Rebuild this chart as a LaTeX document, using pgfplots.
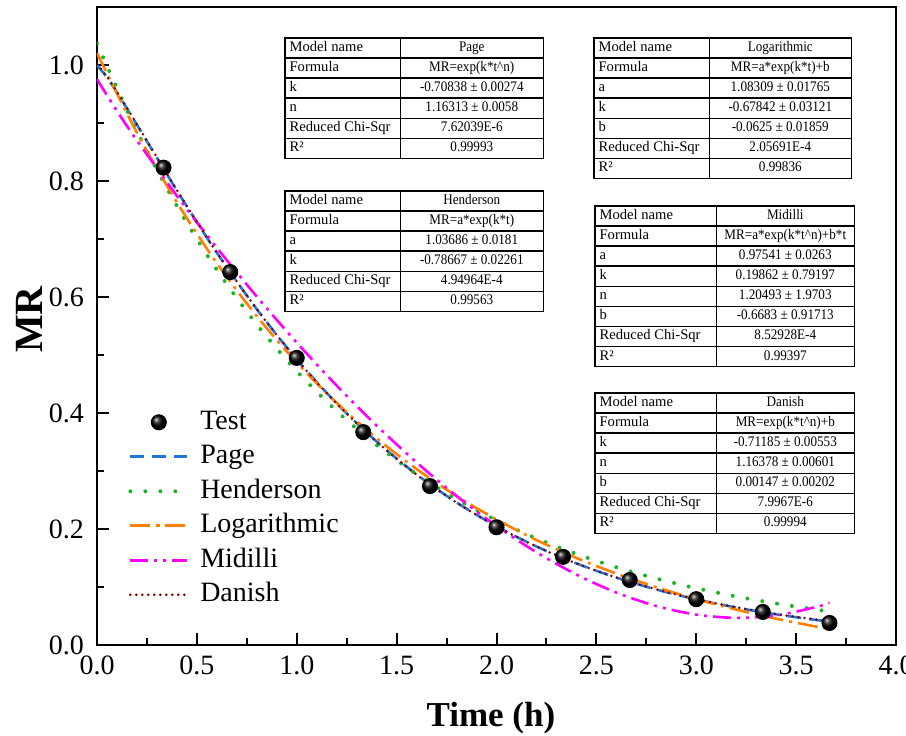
\documentclass[border=0pt]{standalone}
\usepackage{fontspec}
\setmainfont{Liberation Serif}
\newfontfamily\narrowfont[FakeStretch=0.9]{Liberation Serif}
\usepackage{pgfplots}
\pgfplotsset{compat=1.18}
\usepackage{array}
\definecolor{cPage}{RGB}{30,120,220}
\definecolor{cHend}{RGB}{30,180,40}
\definecolor{cLog}{RGB}{255,128,0}
\definecolor{cMid}{RGB}{255,0,255}
\definecolor{cDan}{RGB}{128,0,0}
\newcommand{\fittab}[3]{{\fontsize{7.3}{8.8}\selectfont\setlength{\tabcolsep}{2pt}\setlength{\arrayrulewidth}{0.6pt}\renewcommand{\arraystretch}{1.07}%
\begin{tabular}{|>{\raggedright\arraybackslash}p{#1}|>{\narrowfont\centering\arraybackslash}p{#2}|}\hline #3\end{tabular}}}
\begin{document}
\begin{tikzpicture}
\useasboundingbox (-48.5pt,-45pt) rectangle (404.5pt,322.5pt);
\begin{axis}[
  scale only axis, width=399.5pt, height=319pt,
  xmin=0, xmax=4, ymin=0, ymax=1.1,
  xtick={0,0.5,1,1.5,2,2.5,3,3.5,4},
  ytick={0,0.2,0.4,0.6,0.8,1.0},
  minor x tick num=1, minor y tick num=1,
  tick align=inside, xtick pos=bottom, ytick pos=left,
  major tick length=6pt, minor tick length=3.5pt,
  tick style={line width=1pt, black},
  axis line style={line width=1.25pt},
  /pgf/number format/assume math mode=true,
  /pgf/number format/.cd, fixed, fixed zerofill, precision=1, /pgfplots/.cd,
  ticklabel style={font=\fontsize{14}{16}\selectfont},
  x tick label style={yshift=-2pt},
  y tick label style={xshift=-3pt},
  xlabel={\bfseries Time (h)},
  ylabel={\bfseries MR},
  xlabel style={font=\fontsize{17.5}{20}\selectfont, at={(axis description cs:0.493,0)}, anchor=center, yshift=-36.5pt},
  ylabel style={font=\fontsize{20}{22}\selectfont, at={(axis description cs:0,0.51)}, anchor=center, yshift=34pt},
  legend image code/.code={\draw[mark repeat=2,mark phase=2,#1] plot coordinates {(0cm,0cm) (0.5cm,0cm) (1cm,0cm)};},
  legend style={draw=none, fill=none, at={(axis cs:0.155,0.414)}, anchor=north west,
    font=\fontsize{14}{16}\selectfont, row sep=0.25pt, inner sep=0pt,
    nodes={text height=10pt, text depth=3pt, inner ysep=2pt, inner xsep=5.5pt}},
  legend cell align=left,
]
\addplot[only marks, mark=ball, mark size=3.8pt, mark options={ball color=black}] coordinates {
(0.333,0.823) (0.667,0.643) (1.0,0.495) (1.333,0.367) (1.667,0.274) (2.0,0.203)
(2.333,0.152) (2.667,0.112) (3.0,0.079) (3.333,0.057) (3.667,0.038)};
\addplot[cPage, line width=1.3pt, dash pattern=on 7pt off 4pt, smooth] coordinates {
(0,1) (0.05,0.9785) (0.1,0.9525) (0.2,0.8968) (0.4,0.7835) (0.6,0.6764) (0.8,0.5790) (1.0,0.4924)
(1.2,0.4166) (1.4,0.3508) (1.6,0.2941) (1.8,0.2458) (2.0,0.2047) (2.2,0.1699) (2.4,0.1407)
(2.6,0.1162) (2.8,0.0957) (3.0,0.0787) (3.2,0.0646) (3.4,0.0528) (3.6,0.0432) (3.667,0.0403)};
\addplot[cHend, line width=2pt, line cap=round, dash pattern=on 0pt off 7.5pt, smooth] coordinates {
(0,1.0369) (0.2,0.8859) (0.4,0.7569) (0.6,0.6468) (0.8,0.5526) (1.0,0.4722) (1.2,0.4034)
(1.4,0.3447) (1.6,0.2945) (1.8,0.2516) (2.0,0.2150) (2.2,0.1837) (2.4,0.1570) (2.6,0.1341)
(2.8,0.1146) (3.0,0.0979) (3.2,0.0837) (3.4,0.0715) (3.6,0.0611) (3.667,0.0579)};
\addplot[cLog, line width=1.3pt, dash pattern=on 10pt off 3pt on 1.5pt off 3pt, smooth] coordinates {
(0,1.0206) (0.2,0.8832) (0.4,0.7632) (0.6,0.6584) (0.8,0.5670) (1.0,0.4871) (1.2,0.4174)
(1.4,0.3565) (1.6,0.3033) (1.8,0.2569) (2.0,0.2164) (2.2,0.1810) (2.4,0.1501) (2.6,0.1231)
(2.8,0.0996) (3.0,0.0790) (3.2,0.0611) (3.4,0.0454) (3.6,0.0317) (3.667,0.0275)};
\addplot[cMid, line width=1.3pt, dash pattern=on 9pt off 3pt on 1.5pt off 3pt on 1.5pt off 3pt, smooth] coordinates {
(0,0.9754) (0.1,0.9207) (0.2,0.8700) (0.4,0.7745) (0.6,0.6849) (0.8,0.6007) (1.0,0.5214) (1.2,0.4473)
(1.4,0.3783) (1.6,0.3148) (1.8,0.2570) (2.0,0.2052) (2.2,0.1599) (2.4,0.1215) (2.6,0.0904)
(2.8,0.0672) (3.0,0.0524) (3.2,0.0468) (3.4,0.0509) (3.6,0.0655) (3.667,0.0729)};
\addplot[cDan, line width=1.4pt, line cap=round, dash pattern=on 0pt off 3pt, smooth] coordinates {
(0,1.0015) (0.05,0.9799) (0.1,0.9538) (0.2,0.8979) (0.4,0.7841) (0.6,0.6766) (0.8,0.5790) (1.0,0.4922)
(1.2,0.4162) (1.4,0.3504) (1.6,0.2937) (1.8,0.2454) (2.0,0.2044) (2.2,0.1698) (2.4,0.1407)
(2.6,0.1163) (2.8,0.0960) (3.0,0.0790) (3.2,0.0650) (3.4,0.0534) (3.6,0.0439) (3.667,0.0411)};
\legend{Test,Page,Henderson,Logarithmic,Midilli,Danish}
\end{axis}
\node[anchor=north west, inner sep=0pt, fill=white] at (93.5pt,304pt) {\fittab{53pt}{67pt}{%
Model name & Page\\\hline
Formula & MR=exp(k*t\textasciicircum n)\\\hline
k & -0.70838 ± 0.00274\\\hline
n & 1.16313 ± 0.0058\\\hline
Reduced Chi-Sqr & 7.62039E-6\\\hline
R² & 0.99993\\\hline}};
\node[anchor=north west, inner sep=0pt, fill=white] at (248pt,304pt) {\fittab{53pt}{66.5pt}{%
Model name & Logarithmic\\\hline
Formula & MR=a*exp(k*t)+b\\\hline
a & 1.08309 ± 0.01765\\\hline
k & -0.67842 ± 0.03121\\\hline
b & -0.0625 ± 0.01859\\\hline
Reduced Chi-Sqr & 2.05691E-4\\\hline
R² & 0.99836\\\hline}};
\node[anchor=north west, inner sep=0pt, fill=white] at (93.5pt,227.5pt) {\fittab{53pt}{67pt}{%
Model name & Henderson\\\hline
Formula & MR=a*exp(k*t)\\\hline
a & 1.03686 ± 0.0181\\\hline
k & -0.78667 ± 0.02261\\\hline
Reduced Chi-Sqr & 4.94964E-4\\\hline
R² & 0.99563\\\hline}};
\node[anchor=north west, inner sep=0pt, fill=white] at (248.5pt,220pt) {\fittab{56pt}{64.5pt}{%
Model name & Midilli\\\hline
Formula & MR=a*exp(k*t\textasciicircum n)+b*t\\\hline
a & 0.97541 ± 0.0263\\\hline
k & 0.19862 ± 0.79197\\\hline
n & 1.20493 ± 1.9703\\\hline
b & -0.6683 ± 0.91713\\\hline
Reduced Chi-Sqr & 8.52928E-4\\\hline
R² & 0.99397\\\hline}};
\node[anchor=north west, inner sep=0pt, fill=white] at (248.5pt,126.5pt) {\fittab{56pt}{64.5pt}{%
Model name & Danish\\\hline
Formula & MR=exp(k*t\textasciicircum n)+b\\\hline
k & -0.71185 ± 0.00553\\\hline
n & 1.16378 ± 0.00601\\\hline
b & 0.00147 ± 0.00202\\\hline
Reduced Chi-Sqr & 7.9967E-6\\\hline
R² & 0.99994\\\hline}};
\end{tikzpicture}
\end{document}
